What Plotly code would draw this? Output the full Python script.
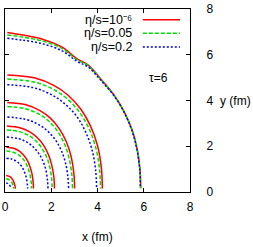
import plotly.graph_objects as go

# ---- data (x, y in fm) ----
# outermost contour
red6_x = [0.10, 0.77, 1.62, 2.47, 3.10, 3.60, 4.17, 4.74, 5.16, 5.52, 5.73, 5.84, 5.87]
red6_y = [6.97, 6.86, 6.68, 6.33, 5.83, 5.55, 4.91, 4.20, 3.49, 2.64, 1.79, 0.94, 0.16]
green6_x = [0.10, 0.77, 1.62, 2.47, 3.10, 3.60, 4.17, 4.74, 5.16, 5.52, 5.73, 5.84, 5.86]
green6_y = [6.86, 6.77, 6.60, 6.27, 5.79, 5.52, 4.89, 4.19, 3.48, 2.63, 1.79, 0.94, 0.16]
blue6_x = [0.10, 0.77, 1.62, 2.47, 3.10, 3.60, 4.17, 4.74, 5.16, 5.51, 5.72, 5.83, 5.85]
blue6_y = [6.72, 6.64, 6.48, 6.17, 5.72, 5.46, 4.85, 4.17, 3.47, 2.62, 1.78, 0.93, 0.16]

red5_x = [0.10, 1.26, 2.11, 2.74, 3.28, 3.70, 4.00, 4.17, 4.21]
red5_y = [5.12, 4.99, 4.66, 4.22, 3.62, 2.88, 2.03, 1.03, 0.15]
green5_x = [0.10, 1.24, 2.07, 2.68, 3.22, 3.63, 3.92, 4.09, 4.13]
green5_y = [4.94, 4.81, 4.50, 4.08, 3.49, 2.78, 1.96, 1.00, 0.15]
blue5_x = [0.10, 1.19, 1.98, 2.57, 3.09, 3.48, 3.76, 3.92, 3.96]
blue5_y = [4.69, 4.57, 4.27, 3.87, 3.32, 2.64, 1.86, 0.95, 0.15]

red4_x = [0.10, 0.90, 1.51, 1.96, 2.35, 2.65, 2.86, 2.98, 3.01]
red4_y = [3.91, 3.81, 3.56, 3.23, 2.76, 2.20, 1.55, 0.79, 0.15]
green4_x = [0.10, 0.88, 1.46, 1.90, 2.28, 2.57, 2.77, 2.89, 2.92]
green4_y = [3.74, 3.64, 3.41, 3.09, 2.64, 2.11, 1.48, 0.76, 0.15]
blue4_x = [0.10, 0.83, 1.38, 1.79, 2.15, 2.42, 2.61, 2.72, 2.75]
blue4_y = [3.28, 3.19, 2.99, 2.71, 2.32, 1.85, 1.30, 0.66, 0.15]

red3_x = [0.08, 0.64, 1.07, 1.39, 1.67, 1.88, 2.03, 2.12, 2.14]
red3_y = [2.89, 2.81, 2.63, 2.38, 2.04, 1.63, 1.14, 0.58, 0.15]
green3_x = [0.08, 0.61, 1.02, 1.33, 1.59, 1.80, 1.94, 2.02, 2.04]
green3_y = [2.71, 2.64, 2.47, 2.24, 1.92, 1.53, 1.07, 0.55, 0.15]
blue3_x = [0.08, 0.56, 0.93, 1.21, 1.45, 1.64, 1.77, 1.84, 1.86]
blue3_y = [2.40, 2.34, 2.19, 1.98, 1.70, 1.35, 0.95, 0.48, 0.15]

red2_x = [0.06, 0.37, 0.62, 0.80, 0.96, 1.08, 1.17, 1.22, 1.23]
red2_y = [1.96, 1.91, 1.79, 1.62, 1.39, 1.10, 0.78, 0.40, 0.15]
green2_x = [0.06, 0.35, 0.58, 0.75, 0.90, 1.01, 1.09, 1.14, 1.15]
green2_y = [1.79, 1.74, 1.63, 1.48, 1.27, 1.01, 0.71, 0.36, 0.15]
blue2_x = [0.06, 0.29, 0.49, 0.64, 0.76, 0.86, 0.93, 0.97, 0.98]
blue2_y = [1.48, 1.44, 1.35, 1.22, 1.05, 0.83, 0.59, 0.30, 0.15]

red1_x = [0.05, 0.23, 0.35, 0.42, 0.45]
red1_y = [0.72, 0.66, 0.51, 0.32, 0.15]
green1_x = [0.05, 0.19, 0.30, 0.35, 0.38]
green1_y = [0.58, 0.53, 0.41, 0.27, 0.15]
blue1_x = [0.05, 0.14, 0.21, 0.25, 0.27]
blue1_y = [0.40, 0.36, 0.28, 0.20, 0.15]

series_names = ["η/s=10⁻⁶", "η/s=0.05", "η/s=0.2"]
series_colors = ["#ff0000", "#00e000", "#0000ff"]
series_dash = ["solid", "4px,2px", "2px,2px"]
curves = [
    [(red1_x, red1_y), (red2_x, red2_y), (red3_x, red3_y), (red4_x, red4_y), (red5_x, red5_y), (red6_x, red6_y)],
    [(green1_x, green1_y), (green2_x, green2_y), (green3_x, green3_y), (green4_x, green4_y), (green5_x, green5_y), (green6_x, green6_y)],
    [(blue1_x, blue1_y), (blue2_x, blue2_y), (blue3_x, blue3_y), (blue4_x, blue4_y), (blue5_x, blue5_y), (blue6_x, blue6_y)],
]

x_ticks = [0, 2, 4, 6, 8]
y_ticks = [0, 2, 4, 6, 8]

fig = go.Figure()
for s in range(3):
    for cx, cy in curves[s]:
        fig.add_trace(go.Scatter(
            x=cx, y=cy, mode="lines", line_shape="spline",
            line=dict(color=series_colors[s], width=1.5, dash=series_dash[s]),
            showlegend=False, hoverinfo="skip"))

FONT = "Liberation Sans, Arial, sans-serif"
W, H = 253, 247
L, R, T, B = 2, 63, 4, 55

fig.update_layout(
    width=W, height=H,
    margin=dict(l=L, r=R, t=T, b=B),
    paper_bgcolor="white", plot_bgcolor="white",
    font=dict(family=FONT, size=12, color="black"),
    showlegend=False,
)
fig.update_xaxes(
    range=[0, 8], tickvals=x_ticks, ticktext=[str(v) for v in x_ticks],
    ticks="inside", ticklen=4, tickcolor="black", tickwidth=1,
    showline=True, linecolor="black", linewidth=1, mirror="ticks",
    showgrid=False, zeroline=False, ticklabelstandoff=4,
    ticklabeloverflow="allow", tickfont=dict(size=12),
)
fig.update_yaxes(
    range=[0, 8], tickvals=y_ticks, ticktext=[str(v) for v in y_ticks],
    side="right",
    ticks="inside", ticklen=4, tickcolor="black", tickwidth=1,
    showline=True, linecolor="black", linewidth=1, mirror="ticks",
    showgrid=False, zeroline=False, ticklabelstandoff=13,
    ticklabeloverflow="allow", tickfont=dict(size=12),
)

# axis titles (placed like the original: x below, y horizontal to the right)
fig.add_annotation(text="x (fm)", xref="paper", yref="paper", x=0.5, y=-0.245,
                   xanchor="center", yanchor="middle", showarrow=False,
                   font=dict(size=12))
fig.add_annotation(text="y (fm)", xref="paper", yref="paper", x=1.154, y=0.5,
                   xanchor="left", yanchor="middle", showarrow=False,
                   font=dict(size=12))

# tau label
fig.add_annotation(text="τ=6", x=6.64, y=4.98, xref="x", yref="y",
                   showarrow=False, xanchor="center", yanchor="middle",
                   font=dict(size=12))

# gnuplot-style legend: text right-aligned, sample line on the right
leg_y = [7.53, 6.94, 6.34]
for i in range(3):
    fig.add_annotation(text=series_names[i], x=5.57, y=leg_y[i], xref="x", yref="y",
                       showarrow=False, xanchor="right", yanchor="middle",
                       font=dict(size=12.5))
    fig.add_shape(type="line", xref="x", yref="y", x0=5.96, x1=7.57,
                  y0=leg_y[i], y1=leg_y[i],
                  line=dict(color=series_colors[i], width=1.5, dash=series_dash[i]))

fig.write_html("out.html", config={"displayModeBar": False},
               post_script="document.body.style.margin='0';")
